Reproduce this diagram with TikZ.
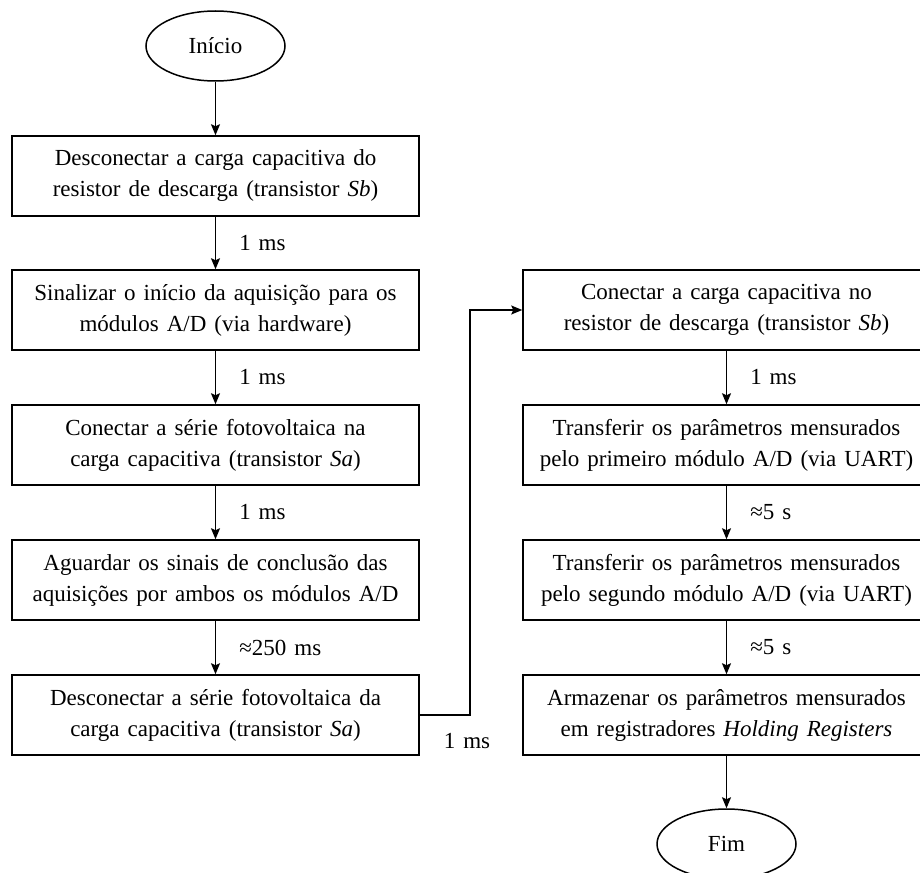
\documentclass[tikz,border=0pt]{standalone}
\usepackage{fontspec}
\setmainfont{Liberation Serif}
\usetikzlibrary{arrows.meta,shapes.geometric}
\newcommand{\txtfont}{\fontsize{23}{31}\selectfont\spaceskip=8pt plus 1pt minus 1pt\relax}
\begin{document}
\begin{tikzpicture}[x=1pt,y=-1pt,
 box/.style={draw, line width=1.5pt, minimum width=407pt, minimum height=80pt, align=center, font=\txtfont, inner sep=0pt},
 term/.style={draw, ellipse, line width=1.5pt, minimum width=139pt, minimum height=70pt, font=\txtfont, inner sep=0pt},
 arr/.style={line width=1.5pt, -{Stealth[length=11pt,width=9pt,inset=2pt]}},
 lbl/.style={font=\txtfont, inner sep=0pt}]
\useasboundingbox (0,0) rectangle (920,872);
\node[term] (ini) at (215.5,46) {Início};
\node[box] (b1) at (215.5,176) {Desconectar a carga capacitiva do\\resistor de descarga (transistor \textit{Sb})};
\node[box] (b2) at (215.5,310) {Sinalizar o início da aquisição para os\\módulos A/D (via hardware)};
\node[box] (b3) at (215.5,445) {Conectar a série fotovoltaica na\\carga capacitiva (transistor \textit{Sa})};
\node[box] (b4) at (215.5,580) {Aguardar os sinais de conclusão das\\aquisições por ambos os módulos A/D};
\node[box] (b5) at (215.5,715) {Desconectar a série fotovoltaica da\\carga capacitiva (transistor \textit{Sa})};
\node[box] (r1) at (726.5,310) {Conectar a carga capacitiva no\\resistor de descarga (transistor \textit{Sb})};
\node[box] (r2) at (726.5,445) {Transferir os parâmetros mensurados\\pelo primeiro módulo A/D (via UART)};
\node[box] (r3) at (726.5,580) {Transferir os parâmetros mensurados\\pelo segundo módulo A/D (via UART)};
\node[box] (r4) at (726.5,715) {Armazenar os parâmetros mensurados\\em registradores \textit{Holding Registers}};
\node[term] (fim) at (726.5,844) {Fim};
\draw[arr] (ini) -- (b1);
\draw[arr] (b1) -- node[lbl, anchor=west, xshift=23pt] {1 ms} (b2);
\draw[arr] (b2) -- node[lbl, anchor=west, xshift=23pt] {1 ms} (b3);
\draw[arr] (b3) -- node[lbl, anchor=west, xshift=23pt] {1 ms} (b4);
\draw[arr] (b4) -- node[lbl, anchor=west, xshift=23pt] {≈250 ms} (b5);
\draw[arr] (r1) -- node[lbl, anchor=west, xshift=23pt] {1 ms} (r2);
\draw[arr] (r2) -- node[lbl, anchor=west, xshift=23pt] {≈5 s} (r3);
\draw[arr] (r3) -- node[lbl, anchor=west, xshift=23pt] {≈5 s} (r4);
\draw[arr] (r4) -- (fim);
\coordinate (k) at (470,715);
\draw[arr] (b5.east) -- (k) |- (r1.west);
\node[lbl] (lk) at (467,741) {1 ms};
\end{tikzpicture}
\end{document}
